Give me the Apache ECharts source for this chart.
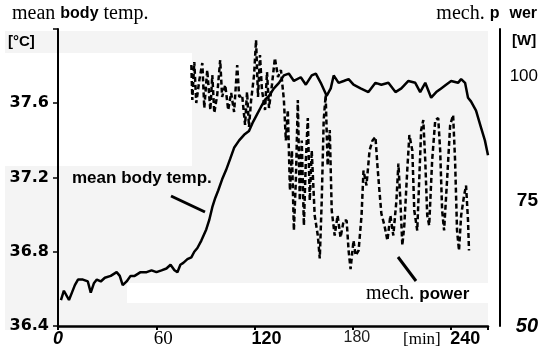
<!DOCTYPE html>
<html>
<head>
<meta charset="utf-8">
<script src="https://cdn.jsdelivr.net/npm/echarts@6/dist/echarts.min.js"></script>
<style>
  html, body { margin: 0; padding: 0; background: #fff; }
  #chart { width: 541px; height: 355px; }
</style>
</head>
<body>
<div id="chart"></div>
<script>
// time axis in minutes, temperature in °C (left), power in W (right)
const timeTicks = [0, 60, 120, 180, 240];
const tempTicks = [36.4, 36.8, 37.2, 37.6];
const powerTicks = [50, 75, 100];

const tempTime = [1.8, 3.6, 6.7, 8.5, 10.3, 12.2, 15.2, 18.2, 20.0, 21.9, 23.7, 26.1, 28.6, 32.2, 35.8, 37.7,
  39.5, 41.9, 44.3, 46.8, 50.4, 54.1, 57.1, 60.1, 63.2, 66.2, 68.7, 71.1, 72.9, 74.7, 76.5, 79.0, 81.4, 83.2,
  85.1, 87.5, 90.5, 92.3, 94.2, 96.0, 97.8, 100.2, 102.6, 105.1, 107.5, 110.6, 113.6, 116.6, 119.1, 121.5,
  123.9, 126.4, 128.8, 131.8, 134.9, 137.9, 140.9, 144.0, 148.2, 151.3, 154.9, 157.4, 160.4, 164.0, 166.5,
  168.3, 171.3, 174.4, 177.4, 180.4, 184.7, 189.5, 193.8, 197.4, 201.7, 206.0, 209.6, 213.9, 218.1, 221.1,
  224.2, 227.8, 230.9, 233.9, 236.9, 240.0, 244.2, 246.1, 248.5, 250.3, 252.1, 255.2, 258.2, 260.6, 262.5];
const tempValue = [36.54, 36.59, 36.54, 36.58, 36.62, 36.65, 36.65, 36.64, 36.58, 36.63, 36.65, 36.64, 36.66,
  36.67, 36.69, 36.67, 36.62, 36.64, 36.67, 36.67, 36.69, 36.69, 36.70, 36.69, 36.70, 36.71, 36.73, 36.70,
  36.69, 36.73, 36.74, 36.76, 36.77, 36.80, 36.82, 36.86, 36.92, 36.97, 37.04, 37.09, 37.13, 37.19, 37.24,
  37.30, 37.36, 37.40, 37.43, 37.45, 37.50, 37.54, 37.58, 37.62, 37.64, 37.68, 37.71, 37.75, 37.76, 37.72,
  37.74, 37.70, 37.75, 37.76, 37.71, 37.64, 37.68, 37.75, 37.71, 37.72, 37.73, 37.70, 37.68, 37.66, 37.71,
  37.70, 37.71, 37.66, 37.68, 37.72, 37.71, 37.66, 37.71, 37.63, 37.66, 37.68, 37.70, 37.72, 37.71, 37.73,
  37.71, 37.63, 37.61, 37.56, 37.47, 37.40, 37.32];

const powerTime = [81.4, 82.0, 83.2, 84.4, 86.3, 88.1, 89.3, 91.1, 93.0, 94.2, 95.4, 97.2, 99.0, 100.2, 102.1,
  103.9, 105.7, 107.5, 109.4, 110.6, 112.4, 114.2, 115.4, 116.6, 117.9, 119.7, 120.9, 122.1, 123.3, 124.5,
  126.4, 127.6, 128.8, 130.6, 132.4, 134.3, 136.1, 137.9, 139.1, 140.3, 141.6, 142.8, 144.0, 145.2, 146.4,
  147.6, 148.8, 150.1, 151.3, 152.5, 153.7, 154.9, 156.7, 158.6, 159.8, 161.0, 162.2, 163.4, 164.6, 165.9,
  167.1, 168.9, 170.7, 172.5, 174.4, 176.2, 177.4, 178.6, 180.4, 181.7, 183.5, 185.3, 186.5, 188.3, 190.2,
  192.0, 193.8, 195.0, 196.2, 197.4, 199.3, 201.1, 202.9, 204.7, 206.6, 207.8, 209.0, 210.2, 211.4, 213.2,
  214.5, 216.3, 217.5, 219.3, 220.5, 221.7, 223.0, 224.2, 225.4, 226.6, 228.4, 230.3, 232.1, 233.3, 234.5,
  235.7, 237.5, 239.4, 241.2, 242.4, 243.6, 244.8, 246.1, 247.9, 249.1, 250.3, 250.9];
const powerValue = [102.2, 95.2, 102.8, 94.6, 99.2, 102.6, 93.6, 101.2, 93.2, 100.2, 92.6, 96.2, 103.2, 95.8,
  98.2, 93.2, 96.6, 92.8, 102.2, 95.8, 96.2, 90.2, 96.8, 89.8, 95.2, 100.2, 107.2, 95.8, 104.2, 97.2, 93.2,
  100.8, 93.6, 98.2, 103.6, 99.8, 101.2, 95.2, 87.1, 93.2, 77.1, 85.1, 69.1, 79.1, 95.2, 75.1, 87.1, 70.1,
  83.1, 91.6, 75.1, 85.1, 72.1, 68.1, 63.5, 75.1, 91.2, 96.2, 82.1, 89.2, 73.1, 68.1, 72.1, 67.7, 71.1,
  71.1, 65.1, 61.4, 67.1, 64.1, 65.1, 72.1, 81.1, 78.1, 85.1, 87.1, 87.8, 82.1, 77.1, 72.5, 70.1, 67.1,
  72.1, 68.1, 75.1, 82.5, 75.1, 66.1, 70.1, 81.1, 88.2, 85.1, 73.1, 69.1, 79.1, 89.2, 91.2, 83.1, 72.1,
  70.1, 83.1, 91.2, 91.6, 85.1, 73.1, 69.1, 79.1, 90.2, 92.2, 83.1, 69.1, 65.1, 72.1, 76.1, 78.1, 71.1, 65.1];

const SANS = 'Liberation Sans';
const SERIF = 'Liberation Serif';

const chart = echarts.init(document.getElementById('chart'), null, { renderer: 'canvas' });

const timeLabel = {
  0: '{t0|0}', 60: '{t60|60}', 120: '{t120|120}', 180: '{t180|180}', 240: '{t240|240}'
};

chart.setOption({
  animation: false,
  backgroundColor: '#fff',
  grid: { left: 58, right: 51, top: 29, bottom: 29 },
  xAxis: {
    type: 'value', min: 0, max: 262.5, interval: 60,
    axisLine: { lineStyle: { color: '#000', width: 2.5 } },
    axisTick: { show: true, length: 4, lineStyle: { color: '#000', width: 2 } },
    splitLine: { show: false },
    axisLabel: {
      margin: 4,
      color: '#000',
      formatter: (v) => timeTicks.includes(v) ? timeLabel[v] : '',
      rich: {
        t0: { fontFamily: SANS, fontWeight: 'bold', fontStyle: 'italic', fontSize: 18, color: '#000' },
        t60: { fontFamily: SERIF, fontSize: 19, color: '#000', padding: [0, 0, 0, 14] },
        t120: { fontFamily: SANS, fontWeight: 'bold', fontSize: 18, color: '#000', padding: [0, 0, 0, 24] },
        t180: { fontFamily: SANS, fontSize: 16, color: '#222', padding: [0, 0, 0, 8] },
        t240: { fontFamily: SANS, fontWeight: 'bold', fontSize: 18, color: '#000', padding: [0, 0, 0, 28] }
      }
    }
  },
  yAxis: [
    {
      type: 'value', position: 'left', min: 36.4, max: 38.0, interval: 0.4,
      axisLine: { show: true, lineStyle: { color: '#000', width: 2 } },
      axisTick: { show: true, length: 5, lineStyle: { color: '#000', width: 1.5 } },
      splitLine: { show: false },
      axisLabel: {
        margin: 9, color: '#000', fontFamily: 'DejaVu Sans', fontWeight: 'bold', fontSize: 16,
        formatter: (v) => {
          const s = v.toFixed(1);
          return tempTicks.map((t) => t.toFixed(1)).includes(s) ? s : '';
        }
      }
    },
    {
      type: 'value', position: 'right', offset: 12, min: 50, max: 109.4, interval: 25,
      axisLine: { show: true, lineStyle: { color: '#000', width: 2 } },
      axisTick: { show: false },
      splitLine: { show: false },
      axisLabel: {
        margin: 38, align: 'right', color: '#000',
        formatter: (v) => {
          if (!powerTicks.includes(v)) return '';
          if (v === 100) return '{p100|100}';
          if (v === 75) return '{p75|75}';
          return '{p50|50}';
        },
        rich: {
          p100: { fontFamily: SANS, fontSize: 17, color: '#000' },
          p75: { fontFamily: SANS, fontWeight: 'bold', fontSize: 19, color: '#000' },
          p50: { fontFamily: SANS, fontWeight: 'bold', fontStyle: 'italic', fontSize: 20, color: '#000' }
        }
      }
    }
  ],
  series: [
    {
      name: 'mean body temp.',
      type: 'line',
      yAxisIndex: 0,
      showSymbol: false,
      lineStyle: { color: '#000', width: 2.5 },
      data: tempTime.map((t, i) => [t, tempValue[i]]),
      z: 3
    },
    {
      name: 'mech. power',
      type: 'line',
      yAxisIndex: 1,
      showSymbol: false,
      lineStyle: { color: '#000', width: 2.5, type: [5, 3] },
      data: powerTime.map((t, i) => [t, powerValue[i]]),
      z: 2
    }
  ],
  graphic: [
    // scan background: light grey with white patches
    { type: 'rect', z: -10, shape: { x: 5, y: 31, width: 483, height: 299 }, style: { fill: '#f4f4f4' } },
    { type: 'rect', z: -9, shape: { x: 0, y: 53, width: 192, height: 113 }, style: { fill: '#fff' } },
    { type: 'rect', z: -9, shape: { x: 127, y: 283, width: 361, height: 20 }, style: { fill: '#fff' } },

    {
      type: 'text', left: 12, top: 4, z: 50,
      style: {
        text: '{s|mean }{b|body}{s| temp.}',
        rich: {
          s: { fontFamily: SERIF, fontSize: 20, fill: '#000' },
          b: { fontFamily: SANS, fontWeight: 'bold', fontSize: 16, fill: '#000' }
        }
      }
    },
    {
      type: 'text', right: 4, top: 4, z: 50,
      style: {
        text: '{s|mech. }{b|p}{s|  }{b|wer}',
        rich: {
          s: { fontFamily: SERIF, fontSize: 20, fill: '#000' },
          b: { fontFamily: SANS, fontWeight: 'bold', fontSize: 16, fill: '#000' }
        }
      }
    },
    { type: 'text', left: 8, top: 34, z: 50, style: { text: '[°C]', font: 'bold 15px "Liberation Sans"', fill: '#000' } },
    { type: 'text', left: 512, top: 33, z: 50, style: { text: '[W]', font: 'bold 15px "Liberation Sans"', fill: '#000' } },
    { type: 'text', left: 72, top: 170, z: 50, style: { text: 'mean body temp.', font: 'bold 17px "Liberation Sans"', fill: '#000' } },
    { type: 'line', z: 50, shape: { x1: 171, y1: 196, x2: 205, y2: 212 }, style: { stroke: '#000', lineWidth: 3 } },
    {
      type: 'text', left: 366, top: 284, z: 50,
      style: {
        text: '{s|mech. }{b|power}',
        rich: {
          s: { fontFamily: SERIF, fontSize: 20, fill: '#000' },
          b: { fontFamily: SANS, fontWeight: 'bold', fontSize: 17, fill: '#000' }
        }
      }
    },
    { type: 'line', z: 50, shape: { x1: 398, y1: 257, x2: 416, y2: 281 }, style: { stroke: '#000', lineWidth: 3 } },
    { type: 'text', left: 403, top: 331, z: 50, style: { text: '[min]', font: '17px "Liberation Serif"', fill: '#000' } }
  ]
});
</script>
</body>
</html>
